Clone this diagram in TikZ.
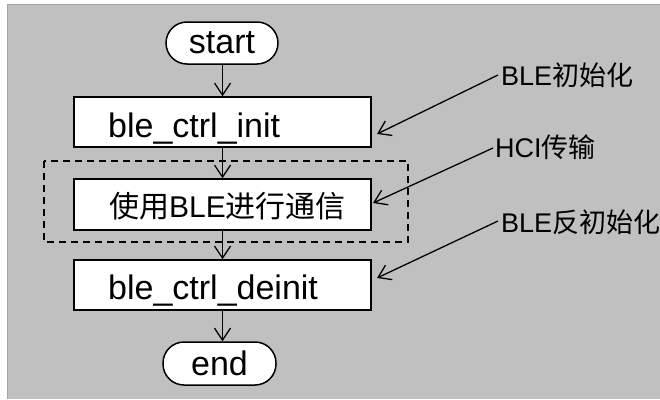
\documentclass[tikz,border=0pt]{standalone}
\usepackage{fontspec}
\setmainfont{Liberation Sans}
\newfontfamily\cjk{Noto Sans CJK SC}
\usetikzlibrary{arrows.meta}
\definecolor{panel}{HTML}{C0C0C0}
\definecolor{panelrim}{HTML}{A4A4A4}
\tikzset{
  stepbox/.style={draw=black, line width=1.5pt, fill=white, minimum width=297pt, minimum height=50pt, inner sep=0pt},
  term/.style={draw=black, line width=1.5pt, fill=white, rounded corners=21pt, inner sep=0pt, font=\fontsize{34}{40}\selectfont},
  boxtext/.style={anchor=base west, inner sep=0pt, font=\fontsize{34}{40}\selectfont},
  note/.style={anchor=base west, inner sep=0pt, font=\fontsize{27}{32}\selectfont},
  flow/.style={line width=1.3pt, -{Straight Barb[length=12pt,width=16pt,line width=1.3pt]}},
  pointer/.style={line width=1.3pt, -{Straight Barb[length=12pt,width=16pt,line width=1.3pt]}},
  group/.style={draw=black, line width=1.4pt, dash pattern=on 7pt off 5pt}
}
\begin{document}
\begin{tikzpicture}[x=1pt,y=-1pt]
\useasboundingbox (0,0) rectangle (660,399);
% backdrop
\fill[white] (0,0) rectangle (660,399);
\fill[panel] (7,4) rectangle (660,399);
\draw[panelrim, line width=1pt] (7,399) -- (7,4) -- (660,4);

% dashed group around the communication step
\draw[group] (44,161) rectangle (408,242);

% flow nodes
\node[term, minimum width=112pt, minimum height=42pt] (start) at (222,43) {\raisebox{-1pt}{start}};
\node[stepbox] (init) at (222.5,122) {};
\node[stepbox, minimum height=51pt] (comm) at (222.5,204.5) {};
\node[stepbox] (deinit) at (222.5,285) {};
\node[term, minimum width=113pt, minimum height=43pt] (end) at (219.5,363.5) {\raisebox{-1pt}{end}};

% step texts
\node[boxtext] (tinit) at (108,137) {ble\_ctrl\_init};
\node[boxtext, font=\fontsize{30}{36}\selectfont] (tcomm) at (109,217) {{\cjk 使用}BLE{\cjk 进行通信}};
\node[boxtext] (tdeinit) at (108,299) {ble\_ctrl\_deinit};

% flow connectors
\draw[flow] (start.south -| init.north) -- (init.north);
\draw[flow] (init.south) -- (comm.north);
\draw[flow] (comm.south) -- (deinit.north);
\draw[flow] (deinit.south) -- (deinit.south |- end.north);

% side notes
\node[note] (n1) at (501,85) {BLE{\cjk 初始化}};
\node[note] (n2) at (495,157) {HCI{\cjk 传输}};
\node[note] (n3) at (501,232) {BLE{\cjk 反初始化}};

\coordinate (n1a) at (498,75);
\coordinate (n2a) at (493,148);
\coordinate (n3a) at (498,221);
\coordinate (t1) at (377,134);
\coordinate (t2) at (373,203);
\coordinate (t3) at (377,278);

\draw[pointer] (n1a) -- (t1);
\draw[pointer] (n2a) -- (t2);
\draw[pointer] (n3a) -- (t3);
\end{tikzpicture}
\end{document}
